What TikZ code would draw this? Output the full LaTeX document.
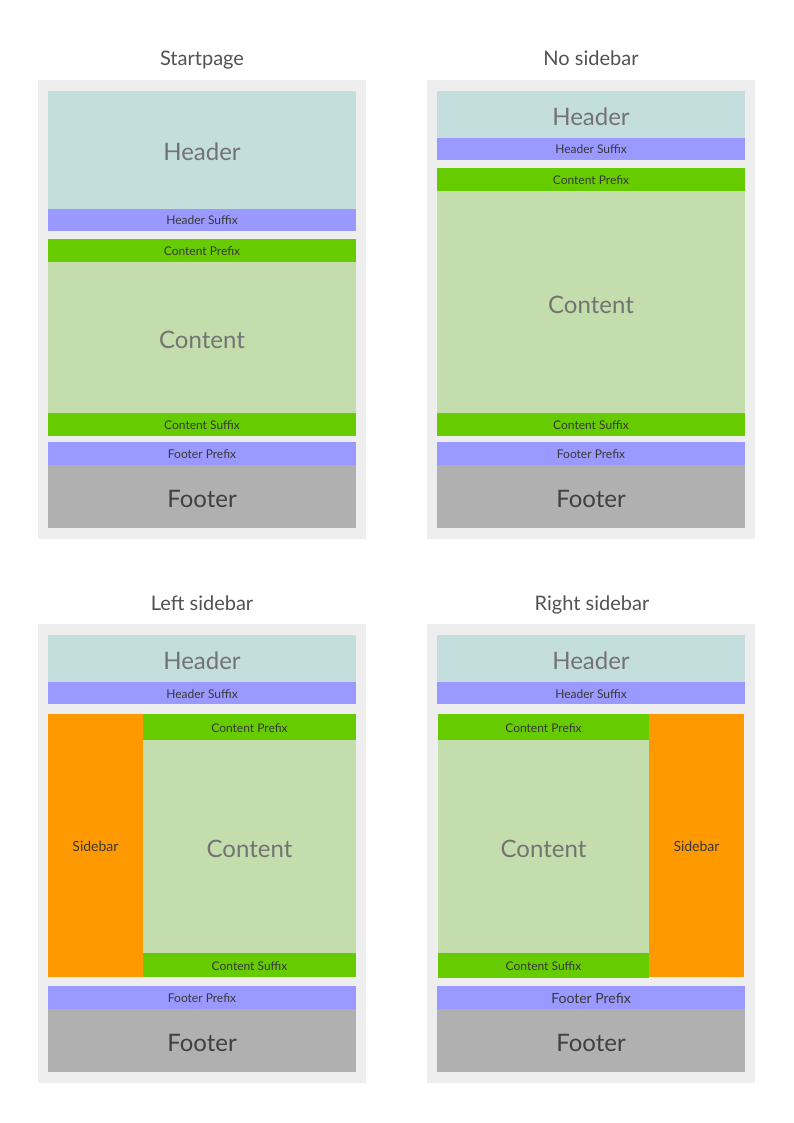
\documentclass[tikz,border=0pt]{standalone}
\usepackage{fontspec}
\setmainfont{Lato}
\usetikzlibrary{positioning}
\definecolor{panelgray}{HTML}{EEEEEE}
\definecolor{hdrcol}{HTML}{C4DDDD}
\definecolor{sufcol}{HTML}{9999FF}
\definecolor{precol}{HTML}{66CC00}
\definecolor{cntcol}{HTML}{C4DDAC}
\definecolor{ftrcol}{HTML}{B0B0B0}
\definecolor{sidecol}{HTML}{FF9900}
\tikzset{
  blk/.style={anchor=north west, inner sep=0pt, outer sep=0pt},
  panel/.style={blk, fill=panelgray, minimum width=328pt, minimum height=459pt},
  ttl/.style={anchor=base, text=black!68, font=\fontsize{20}{23}\selectfont},
  big/.style={blk, text=black!55, text height=22pt, text depth=0pt, font=\fontsize{24}{27}\selectfont},
  small/.style={blk, text=black!78, text height=10pt, text depth=0pt, font=\fontsize{12}{14}\selectfont},
  hdr/.style={big, fill=hdrcol, minimum width=308pt},
  hsuf/.style={small, fill=sufcol, minimum width=308pt, minimum height=22pt},
  cpre/.style={small, fill=precol, minimum height=23pt},
  cnt/.style={big, fill=cntcol},
  csuf/.style={small, fill=precol, minimum height=23pt},
  fpre/.style={small, fill=sufcol, minimum width=308pt, minimum height=23pt},
  ftr/.style={big, text=black!75, fill=ftrcol, minimum width=308pt, minimum height=63pt},
  side/.style={small, fill=sidecol, text height=11.5pt, font=\fontsize{14}{16}\selectfont, minimum width=95pt, minimum height=263pt}
}
\begin{document}
\begin{tikzpicture}[x=1pt, y=-1pt]
  \useasboundingbox[fill=white] (0,0) rectangle (794,1123);

  % Startpage
  \node[ttl] (t1) at (202,66) {Startpage};
  \node[panel] (p1) at (38,80) {};
  \node[hdr, minimum height=118pt] (h1) at (48,91) {Header};
  \node[hsuf] (hs1) at (48,209) {Header Suffix};
  \node[cpre, minimum width=308pt] (cp1) at (48,239) {Content Prefix};
  \node[cnt, minimum width=308pt, minimum height=151pt] (c1) at (48,262) {Content};
  \node[csuf, minimum width=308pt] (cs1) at (48,413) {Content Suffix};
  \node[fpre] (fp1) at (48,442) {Footer Prefix};
  \node[ftr] (f1) at (48,465) {Footer};

  % No sidebar
  \node[ttl] (t2) at (591,66) {No sidebar};
  \node[panel] (p2) at (427,80) {};
  \node[hdr, minimum height=47pt] (h2) at (437,91) {Header};
  \node[hsuf] (hs2) at (437,138) {Header Suffix};
  \node[cpre, minimum width=308pt] (cp2) at (437,168) {Content Prefix};
  \node[cnt, minimum width=308pt, minimum height=222pt] (c2) at (437,191) {Content};
  \node[csuf, minimum width=308pt] (cs2) at (437,413) {Content Suffix};
  \node[fpre] (fp2) at (437,442) {Footer Prefix};
  \node[ftr] (f2) at (437,465) {Footer};

  % Left sidebar
  \node[ttl] (t3) at (202,610) {Left sidebar};
  \node[panel] (p3) at (38,624) {};
  \node[hdr, minimum height=47pt] (h3) at (48,635) {Header};
  \node[hsuf] (hs3) at (48,682) {Header Suffix};
  \node[side] (sb3) at (48,714) {Sidebar};
  \node[cpre, minimum width=213pt, minimum height=26pt] (cp3) at (143,714) {Content Prefix};
  \node[cnt, minimum width=213pt, minimum height=213pt] (c3) at (143,740) {Content};
  \node[csuf, minimum width=213pt, minimum height=24pt] (cs3) at (143,953) {Content Suffix};
  \node[fpre] (fp3) at (48,986) {Footer Prefix};
  \node[ftr] (f3) at (48,1009) {Footer};

  % Right sidebar
  \node[ttl] (t4) at (592,610) {Right sidebar};
  \node[panel] (p4) at (427,624) {};
  \node[hdr, minimum height=47pt] (h4) at (437,635) {Header};
  \node[hsuf] (hs4) at (437,682) {Header Suffix};
  \node[cpre, minimum width=211pt, minimum height=26pt] (cp4) at (438,714) {Content Prefix};
  \node[cnt, minimum width=211pt, minimum height=213pt] (c4) at (438,740) {Content};
  \node[csuf, minimum width=211pt, minimum height=25pt] (cs4) at (438,953) {Content Suffix};
  \node[side] (sb4) at (649,714) {Sidebar};
  \node[fpre, text height=11.5pt, font=\fontsize{14}{16}\selectfont] (fp4) at (437,986) {Footer Prefix};
  \node[ftr] (f4) at (437,1009) {Footer};
\end{tikzpicture}
\end{document}
